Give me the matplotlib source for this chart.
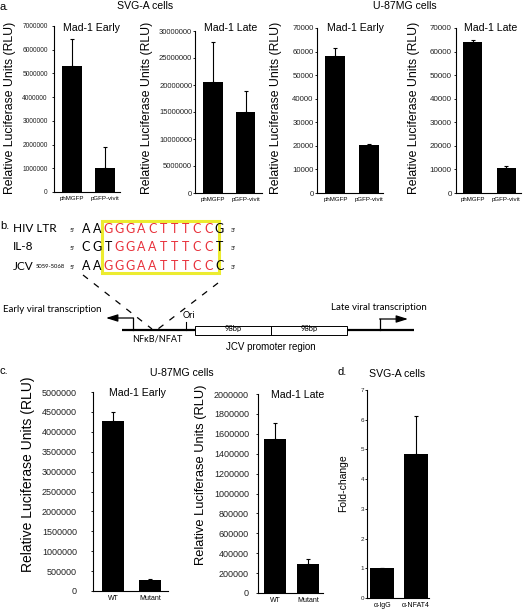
import numpy as np
import matplotlib
matplotlib.use('Agg')
import matplotlib.pyplot as plt
from matplotlib.patches import Rectangle

plt.rcParams['font.family'] = ['Liberation Sans', 'DejaVu Sans']

W, H = 528, 611

# ---- data ----
a_groups = ['phMGFP', 'pGFP-vivit']
svga_early = [5300000, 1000000]
svga_early_err = [1150000, 880000]
svga_late = [20500000, 15000000]
svga_late_err = [7400000, 3800000]
u87_early = [58000, 20500]
u87_early_err = [3500, 500]
u87_late = [64000, 10700]
u87_late_err = [1100, 700]

c_groups = ['WT', 'Mutant']
c_early = [4270000, 280000]
c_early_err = [220000, 15000]
c_late = [1550000, 290000]
c_late_err = [160000, 50000]

d_groups = ['α-IgG', 'α-NFAT4']
d_fold = [1.0, 4.85]
d_fold_err = [0.01, 1.27]

seq_names = ['HIV LTR', 'IL-8', 'JCV']
seq_letters = ['AAGGGACTTTCCG', 'CGTGGAATTTCCT', 'AAGGGAATTTCCC']
seq_red = ['0011111111110', '0001111111110', '0011111111110']

fig = plt.figure(figsize=(W / 100, H / 100), dpi=100)


def px_axes(x0, x1, ytop, ybot):
    return fig.add_axes([x0 / W, 1 - ybot / H, (x1 - x0) / W, (ybot - ytop) / H])


def bar_panel(rect, groups, vals, errs, ymax, step, xlim, width,
              ysize, xsize, pad):
    ax = px_axes(*rect)
    x = np.arange(len(groups))
    ax.bar(x, vals, width=width, color='black')
    ax.errorbar(x, vals, yerr=[np.zeros(len(vals)), errs], fmt='none',
                ecolor='black', elinewidth=0.8, capsize=1.3, capthick=0.8)
    ax.set_xlim(*xlim)
    ax.set_ylim(0, ymax)
    ax.set_yticks(np.arange(0, ymax + step / 2, step))
    ax.yaxis.set_major_formatter(matplotlib.ticker.FuncFormatter(
        lambda v, p: f'{v:g}' if v < 100 else f'{int(round(v))}'))
    ax.set_xticks(x)
    ax.set_xticklabels(groups, fontsize=xsize)
    for s in ['top', 'right']:
        ax.spines[s].set_visible(False)
    for s in ['left', 'bottom']:
        ax.spines[s].set_linewidth(0.8)
    ax.tick_params(axis='y', labelsize=ysize, length=1.5, width=0.6,
                   pad=pad, labelcolor='#222222')
    ax.tick_params(axis='x', length=0, pad=3)
    return ax


bar_panel((54, 120, 26, 192), a_groups, svga_early, svga_early_err,
          7000000, 1000000, (-0.55, 1.45), 0.6, 4.8, 4.4, 3)
bar_panel((195, 262, 31, 193), a_groups, svga_late, svga_late_err,
          30000000, 5000000, (-0.55, 1.5), 0.6, 5.5, 4.4, 0.5)
bar_panel((317, 383, 28, 193), a_groups, u87_early, u87_early_err,
          70000, 10000, (-0.55, 1.42), 0.6, 5.6, 4.4, 1)
bar_panel((456, 521, 28, 193), a_groups, u87_late, u87_late_err,
          70000, 10000, (-0.49, 1.43), 0.58, 5.8, 4.4, 1.5)
bar_panel((93, 168, 392, 591), c_groups, c_early, c_early_err,
          5000000, 500000, (-0.54, 1.49), 0.6, 6.5, 5, 10)
bar_panel((258, 323, 394, 593), c_groups, c_late, c_late_err,
          2000000, 200000, (-0.52, 1.45), 0.66, 6.5, 5, 5)
bar_panel((367, 429, 390, 598), d_groups, d_fold, d_fold_err,
          7, 1, (-0.45, 1.38), 0.7, 4.5, 5, 0.5)

# ---- overlay in pixel coordinates for text and schematic ----
ov = fig.add_axes([0, 0, 1, 1])
ov.set_xlim(0, W)
ov.set_ylim(H, 0)
ov.axis('off')


def t(x, y, s, size, **kw):
    kw.setdefault('ha', 'center')
    kw.setdefault('va', 'center')
    ov.text(x, y, s, fontsize=size, **kw)


# panel letters and headers
t(0, 7, 'a.', 8, ha='left')
t(0, 226, 'b.', 8, ha='left')
t(0, 371, 'c.', 8, ha='left')
t(337, 372, 'd.', 8, ha='left')
t(145, 6, 'SVG-A cells', 7.6)
t(405, 6, 'U-87MG cells', 7.6)
t(182, 373, 'U-87MG cells', 7.6)
t(397, 374, 'SVG-A cells', 7.6)

# titles
t(91, 28, 'Mad-1 Early', 7.6)
t(231, 28, 'Mad-1 Late', 7.6)
t(355, 28, 'Mad-1 Early', 7.6)
t(491, 28, 'Mad-1 Late', 7.6)
t(137, 393, 'Mad-1 Early', 7.6)
t(298, 395, 'Mad-1 Late', 7.6)

# y labels
ylab = 'Relative Luciferase Units (RLU)'
for xc in [10, 147, 276, 414]:
    t(xc, 108, ylab, 8.8, rotation=90)
t(28, 474, ylab, 10, rotation=90)
t(201, 475, ylab, 9.3, rotation=90)
t(343, 483, 'Fold-change', 7.5, rotation=90)

# ---- panel b: sequences ----
bfont = ['Lato', 'DejaVu Sans']
red = '#e8303a'
row_y = [229, 247, 266]
for name, letters, mask, y in zip(seq_names, seq_letters, seq_red, row_y):
    t(13, y, name, 8.5, ha='left', family=bfont)
    t(72, y + 1.5, "5'", 4.5, family=bfont)
    t(233, y + 1.5, "3'", 4.5, family=bfont)
    for i, (ch, m) in enumerate(zip(letters, mask)):
        t(86 + 11.1 * i, y, ch, 9, family=bfont,
          color=red if m == '1' else 'black')
t(36, 267, '5059-5068', 4.2, ha='left', family=bfont)
ov.add_patch(Rectangle((102, 221), 117, 52, fill=False,
                       edgecolor='#ecec30', lw=2.2))

# dashed lines to the NFkB/NFAT site
ov.plot([83, 152], [275, 329], color='black', lw=0.9, ls=(0, (5, 6)))
ov.plot([218, 158], [283, 329], color='black', lw=0.9, ls=(0, (5, 6)))

# promoter line and boxes
ov.plot([122, 195], [330, 330], color='black', lw=1.6, solid_capstyle='butt')
ov.plot([347, 414], [330, 330], color='black', lw=1.6, solid_capstyle='butt')
ov.add_patch(Rectangle((195, 326), 76, 9, fill=False, edgecolor='black', lw=0.7))
ov.add_patch(Rectangle((271, 326), 76, 9, fill=False, edgecolor='black', lw=0.7))
t(233, 329, '98bp', 5.5, family=bfont)
t(309, 329, '98bp', 5.5, family=bfont)

# early / late transcription arrows
ov.plot([133, 133], [330, 318], color='black', lw=0.9)
ov.annotate('', xy=(106, 318), xytext=(133.4, 318),
            arrowprops=dict(arrowstyle='-|>,head_length=0.7,head_width=0.22',
                            color='black', lw=0.9, shrinkA=0, shrinkB=0))
ov.plot([380, 380], [330, 319], color='black', lw=0.9)
ov.annotate('', xy=(408, 319), xytext=(379.6, 319),
            arrowprops=dict(arrowstyle='-|>,head_length=0.7,head_width=0.22',
                            color='black', lw=0.9, shrinkA=0, shrinkB=0))
t(3, 310, 'Early viral transcription', 7, ha='left', family=bfont)
t(331, 308, 'Late viral transcription', 7, ha='left', family=bfont)

# Ori tick
ov.plot([186, 186], [330, 322], color='black', lw=0.8)
t(189, 316, 'Ori', 6.5, family=bfont)
t(157, 339, 'NFκB/NFAT', 6.5, family=bfont)
t(271, 347, 'JCV promoter region', 7)

fig.savefig('out.png', dpi=100)
